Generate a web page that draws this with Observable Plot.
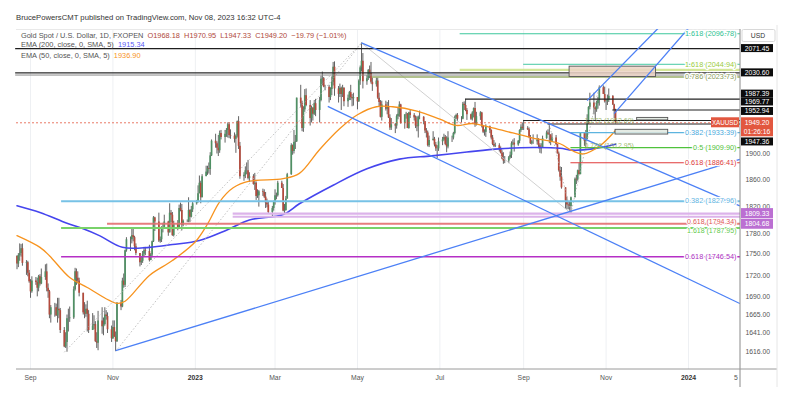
<!DOCTYPE html>
<html><head><meta charset="utf-8">
<script src="https://cdn.jsdelivr.net/npm/d3@7"></script>
<script src="https://cdn.jsdelivr.net/npm/@observablehq/plot@0.6"></script>
<style>
body{margin:0;background:#fff;font-family:"Liberation Sans",Arial,sans-serif;}
#wrap{position:relative;width:791px;height:394px;overflow:hidden;}
.t{position:absolute;white-space:nowrap;line-height:1;}
</style></head><body><div id="wrap"></div>
<script>
// ---------- DATA ----------
const firstBarDate = "2022-08-22";
const firstOpen = 1747;
const lastOpen = 1968.18;
const closes = [
1736,1748,1751,1758,1737, 1738,1723,1711,1697,1712, 1710,1702,1718,1708,1717, 1725,1702,1697,1665,1675,
1675,1664,1673,1671,1644, 1622,1628,1660,1660,1661, 1700,1725,1716,1712,1695, 1668,1666,1673,1666,1644,
1650,1652,1629,1627,1657, 1649,1652,1665,1663,1645, 1633,1648,1635,1629,1681, 1676,1712,1706,1755,1771,
1771,1777,1774,1761,1751, 1738,1740,1750,1755,1754, 1741,1749,1768,1803,1797, 1769,1771,1787,1789,1797,
1781,1810,1807,1777,1793, 1788,1817,1814,1792,1798, 1798,1814,1804,1815,1824, 1826,1839,1855,1833,1865,
1872,1877,1876,1897,1920, 1916,1909,1905,1932,1926, 1931,1937,1946,1929,1928, 1923,1928,1951,1912,1865,
1867,1874,1874,1862,1865, 1853,1855,1835,1836,1842, 1841,1834,1825,1822,1811, 1817,1826,1836,1836,1855,
1847,1813,1814,1831,1868, 1913,1904,1918,1919,1989, 1980,1940,1970,1993,1977, 1956,1973,1963,1980,1969,
1985,2020,2021,2007,2007, 1990,2003,2015,2040,2004, 1995,2005,1995,2005,1983, 1989,1998,1990,1988,1990,
1983,2017,2039,2050,2016, 2021,2035,2030,2015,2011, 2017,1989,1982,1958,1978, 1971,1975,1957,1941,1946,
1944,1959,1963,1978,1948, 1962,1963,1940,1965,1961, 1957,1944,1943,1958,1958, 1951,1936,1933,1913,1921,
1923,1914,1908,1908,1919, 1922,1926,1915,1911,1925, 1925,1932,1957,1961,1955, 1955,1979,1977,1969,1962,
1955,1965,1972,1946,1959, 1965,1944,1934,1934,1943, 1937,1925,1915,1912,1913, 1907,1901,1892,1889,1889,
1894,1898,1916,1917,1914, 1920,1937,1942,1940,1940, 1938,1926,1916,1919,1919, 1922,1913,1908,1910,1924,
1933,1931,1930,1920,1925, 1915,1900,1874,1864,1848, 1828,1822,1821,1820,1833, 1861,1860,1874,1868,1932,
1920,1923,1947,1974,1981, 1973,1970,1980,1985,2006, 1995,1983,1983,1986,1992, 1978,1969,1949.20];
const highs = [
1748,1751,1765,1764,1765, 1741,1740,1727,1714,1718, 1717,1716,1720,1721,1729, 1735,1736,1708,1699,1678,
1681,1680,1688,1688,1674, 1648,1641,1665,1673,1676, 1704,1730,1729,1725,1716, 1695,1682,1679,1684,1671,
1667,1664,1656,1641,1670, 1675,1661,1675,1671,1668, 1650,1657,1657,1642,1682, 1685,1716,1722,1756,1774,
1775,1787,1787,1776,1765, 1751,1746,1754,1760,1760, 1763,1751,1769,1805,1804, 1810,1775,1790,1795,1807,
1798,1824,1814,1811,1798, 1799,1822,1825,1823,1800, 1800,1833,1815,1820,1826, 1829,1851,1866,1858,1868,
1881,1881,1886,1902,1922, 1931,1919,1929,1936,1937, 1937,1940,1949,1949,1938, 1933,1930,1952,1959,1918,
1871,1880,1886,1890,1871, 1868,1870,1857,1845,1844, 1846,1845,1841,1831,1827, 1820,1828,1845,1840,1858,
1858,1853,1823,1835,1870, 1916,1914,1937,1929,1989, 2010,1984,1975,2003,2004, 1985,1976,1972,1985,1987,
1990,2025,2032,2023,2010, 2010,2006,2024,2048,2049, 2008,2012,2007,2010,2006, 1994,2000,2010,1995,1997,
1990,2019,2042,2081,2063, 2026,2036,2042,2048,2022, 2022,2022,1997,1985,1984, 1984,1982,1985,1962,1956,
1948,1962,1974,1983,1979, 1962,1966,1964,1966,1970, 1964,1960,1959,1960,1968, 1959,1951,1940,1936,1928,
1935,1926,1918,1913,1925, 1926,1931,1929,1927,1935, 1928,1934,1960,1963,1964, 1959,1982,1983,1987,1972,
1963,1967,1973,1982,1966, 1967,1966,1945,1938,1946, 1944,1938,1929,1921,1917, 1916,1911,1905,1902,1896,
1896,1903,1919,1922,1924, 1921,1938,1946,1949,1953, 1943,1941,1929,1921,1930, 1930,1924,1916,1916,1928,
1936,1938,1947,1930,1932, 1929,1915,1903,1880,1879, 1848,1834,1827,1826,1834, 1863,1867,1875,1885,1933,
1932,1937,1962,1975,1997, 1997,1975,1984,1990,2009, 2009,2007,1987,1994,2004, 1993,1979,1970.95];
const lows = [
1728,1731,1740,1746,1733, 1720,1718,1709,1688,1695, 1706,1690,1697,1705,1707, 1713,1697,1688,1660,1654,
1662,1663,1654,1660,1640, 1621,1620,1615,1642,1655, 1659,1698,1706,1708,1690, 1665,1660,1662,1642,1640,
1645,1645,1628,1620,1617, 1639,1637,1650,1658,1640, 1628,1632,1636,1616,1628, 1671,1675,1702,1703,1753,
1754,1765,1768,1755,1748, 1732,1734,1737,1746,1748, 1739,1743,1745,1767,1783, 1767,1766,1767,1781,1786,
1776,1781,1796,1776,1775, 1784,1787,1812,1784,1790, 1796,1796,1796,1803,1811, 1822,1825,1839,1824,1834,
1865,1867,1869,1867,1896, 1909,1900,1896,1901,1922, 1917,1926,1925,1924,1923, 1917,1901,1925,1907,1861,
1858,1862,1868,1860,1856, 1852,1844,1829,1832,1819, 1835,1832,1817,1818,1809, 1804,1813,1822,1830,1834,
1847,1812,1809,1813,1831, 1867,1898,1900,1907,1918, 1973,1935,1934,1966,1975, 1944,1949,1952,1961,1959,
1949,1983,2009,2006,2001, 1981,1985,1993,2009,1992, 1981,1990,1969,1990,1975, 1974,1985,1985,1975,1976,
1970,1982,2010,2032,2004, 2010,2018,2021,2012,2000, 2007,1987,1975,1957,1952, 1968,1962,1956,1937,1937,
1932,1939,1954,1958,1947, 1939,1955,1940,1939,1956, 1952,1940,1935,1925,1954, 1946,1932,1925,1911,1910,
1920,1911,1904,1893,1904, 1913,1920,1913,1902,1908, 1918,1922,1930,1954,1951, 1949,1954,1969,1967,1953,
1953,1952,1957,1942,1944, 1953,1941,1932,1928,1926, 1932,1922,1913,1910,1910, 1903,1900,1891,1884,1885,
1885,1892,1893,1913,1903, 1912,1916,1934,1937,1937, 1937,1924,1915,1914,1915, 1914,1908,1901,1900,1909,
1923,1929,1916,1913,1919, 1913,1900,1872,1858,1846, 1816,1815,1815,1813,1810, 1833,1853,1858,1868,1868,
1912,1908,1922,1947,1970, 1962,1953,1966,1971,1976, 1995,1981,1969,1977,1982, 1977,1956,1947.33];

// EMA readings
const ema200Dates = ["2022-08-22","2022-09-08","2022-09-28","2022-10-10","2022-10-22","2022-11-08","2022-11-28","2022-12-15","2023-01-04","2023-01-24","2023-02-10","2023-03-07","2023-03-19","2023-04-13","2023-05-08","2023-06-01","2023-06-25","2023-07-21","2023-08-14","2023-09-08","2023-09-28","2023-10-07","2023-10-22","2023-11-08"];
const ema200Values = [1821,1811,1795,1787,1777,1760,1760,1764,1770,1785,1800,1808,1824,1852,1877,1892,1897,1903,1908,1910,1909,1906,1908,1915.34];
const ema50Dates = ["2022-08-22","2022-09-08","2022-09-15","2022-09-30","2022-10-13","2022-11-04","2022-11-10","2022-11-28","2022-12-15","2023-01-01","2023-01-10","2023-01-19","2023-01-29","2023-02-10","2023-03-07","2023-03-19","2023-04-03","2023-04-18","2023-05-01","2023-05-15","2023-05-27","2023-06-14","2023-07-01","2023-07-13","2023-07-25","2023-08-09","2023-08-24","2023-09-08","2023-09-28","2023-10-07","2023-10-15","2023-10-27","2023-11-08"];
const ema50Values = [1777,1760,1748,1717,1703,1681,1684,1720,1741,1768,1794,1827,1848,1858,1862,1870,1907,1940,1962,1975,1975,1968,1955,1945,1948,1941,1933,1925,1916,1905,1900,1912,1936.90];

// Horizontal levels
const levelValues = [2071.45,2030.60,2027.0,2096.78,2044.94,2035.7,2023.73,1987.39,1969.77,1952.94,1947.36,1933.39,1909.90,1886.41,1827.96,1809.33,1804.68,1794.34,1787.95,1746.54];
const levelStarts = ["2022-08-21","2022-08-21","2022-08-21","2023-07-16","2023-09-01","2023-07-16","2023-05-12","2023-07-20","2023-11-06","2023-09-01","2023-09-19","2023-10-06","2023-10-06","2023-10-06","2022-09-24","2023-01-29","2023-01-29","2022-10-28","2022-09-24","2022-09-24"];
const levelStyles = [
 ["#1e1e1e",1.2,1],["#2a2a2a",1.2,1],["#8a8a8a",1,1],["#3cc79c",1,1],["#46c9a2",1,1],["#cfe38c",2.2,0.9],["#98ac68",1.5,1],
 ["#222",1.1,1],["#222",1.1,1],["#222",1.1,1],["#222",1.1,1],["#5db4df",1.3,1],["#4fc23c",1.4,1],["#e03b3b",1.2,1],
 ["#77c2e6",2,1],["#dcb3ea",2.4,1],["#dcb3ea",2,1],["#e36f6f",2,0.9],["#79d26a",2,1],["#b52fc6",1.5,1]];

// Fib labels (ratio, price)
const fibRatios = ["1.618","1.618","0.786","0.382","0.5","0.618","0.382","0.618","1.618","0.618"];
const fibPrices = [2096.78,2044.94,2023.73,1933.39,1909.90,1886.41,1827.96,1794.34,1787.95,1746.54];
const fibColors = ["#2fbf92","#9ccc3c","#8a9c5c","#4aa9dc","#52bf38","#dd3a3a","#62b4df","#e05555","#5fca4c","#ad2fc1"];
const fibDy = [0,0,0,0,0,0,0,-2.5,2.5,0];

// Inner labels
const innerLabels = ["1.272 (1952.69)","0.786 (1912.95)"];
const innerLabelPrices = [1952.69,1912.95];
const innerLabelDates = ["2023-10-16","2023-10-16"];

// Zones
const zoneX1 = ["2023-10-05","2023-11-08","2023-11-24"];
const zoneX2 = ["2023-12-08","2023-12-17","2023-12-17"];
const zoneY1 = [2023.7,1930.5,1953];
const zoneY2 = [2041,1938,1957];

// Trend lines [date1, price1, date2, price2]
const trendX1 = ["2022-11-03","2023-05-04","2023-04-09","2023-10-18","2023-11-07"];
const trendY1 = [1617,2081,1975.5,1985,1964];
const trendX2 = ["2024-02-08","2024-02-08","2024-02-08","2023-12-12","2024-01-06"];
const trendY2 = [1891.5,1821,1680.8,2112,2119.7];

// Dotted construction lines
const dotX1 = ["2022-09-26","2022-11-03","2023-09-20","2023-10-06"];
const dotY1 = [1615,1616,1947,1810];
const dotX2 = ["2023-05-04","2023-05-04","2023-10-06","2023-10-27"];
const dotY2 = [2081,2081,1810,2009];
const fadeX1 = ["2023-05-04"], fadeY1 = [2081], fadeX2 = ["2023-10-06"], fadeY2 = [1810];

// Axes
const xTickDates = ["2022-09-01","2022-11-01","2023-01-01","2023-03-01","2023-05-01","2023-07-01","2023-09-01","2023-11-01","2024-01-01","2024-02-05"];
const xTickLabels = ["Sep","Nov","2023","Mar","May","Jul","Sep","Nov","2024","5"];
const yTicks = [1616,1641,1665,1690,1720,1750,1780,1820,1860,1900];

// Price-scale boxes
const boxTexts = ["2071.45","2030.60","1987.39","1969.77","1952.94","1947.36","1809.33","1804.68"];
const boxValues = [2071.45,2030.60,1987.39,1969.77,1952.94,1947.36,1809.33,1804.68];
const lastClose = 1949.20;
const countdown = "01:26:16";

// ---------- BUILD ----------
const D = s => new Date(s + "T00:00:00Z");
const bars = [];
{
  let d = D(firstBarDate);
  while (bars.length < closes.length) {
    const wd = d.getUTCDay();
    if (wd !== 0 && wd !== 6) bars.push(new Date(d));
    d = new Date(d.getTime() + 864e5);
  }
}
const candles = closes.map((c, i) => {
  const o = i === 0 ? firstOpen : (i === closes.length - 1 ? lastOpen : closes[i - 1]);
  return {date: bars[i], open: o, close: c, high: Math.max(highs[i], o, c), low: Math.min(lows[i], o, c)};
});
const ema200 = ema200Dates.map((d, i) => ({date: D(d), v: ema200Values[i]}));
const ema50 = ema50Dates.map((d, i) => ({date: D(d), v: ema50Values[i]}));
const xDomain = [new Date("2022-08-21T15:00:00Z"), new Date("2024-02-08T12:00:00Z")];
const yDomain = [1592.3, 2104.1];
const levels = levelValues.map((v, i) => ({y: v, x1: D(levelStarts[i]), x2: xDomain[1], c: levelStyles[i][0], w: levelStyles[i][1], o: levelStyles[i][2]}));
const fibs = fibPrices.map((p, i) => ({y: p, text: `${fibRatios[i]} (${p.toFixed(2)})`, c: fibColors[i], dy: fibDy[i]}));
const zones = zoneX1.map((d, i) => ({x1: D(d), x2: D(zoneX2[i]), y1: zoneY1[i], y2: zoneY2[i]}));
const trends = trendX1.map((d, i) => ({x1: D(d), y1: trendY1[i], x2: D(trendX2[i]), y2: trendY2[i]}));
const dots = dotX1.map((d, i) => ({x1: D(d), y1: dotY1[i], x2: D(dotX2[i]), y2: dotY2[i]}));
const fades = fadeX1.map((d, i) => ({x1: D(d), y1: fadeY1[i], x2: D(fadeX2[i]), y2: fadeY2[i]}));
const xt = xTickDates.map((d, i) => ({date: D(d), label: xTickLabels[i]}));
const inner = innerLabels.map((t, i) => ({text: t, y: innerLabelPrices[i], x: D(innerLabelDates[i])}));

const FONT = '"Liberation Sans", Arial, sans-serif';
const boxDy = [0, 0, -5, -8, -9, 18, 0, 7.5];

function priceScaleBoxes(index, scales, values, dims) {
  const g = d3.create("svg:g").attr("font-family", FONT).attr("font-size", 6.8);
  const y = scales.y;
  const x0 = dims.width - dims.marginRight;
  boxValues.forEach((v, i) => {
    const purple = i >= 6;
    const cy = y(v) + boxDy[i];
    const h = purple ? 10 : 8;
    g.append("rect").attr("x", x0 + 1).attr("y", cy - h / 2).attr("width", 32).attr("height", h)
      .attr("fill", purple ? "#bb6fd2" : "#0c0c0c");
    g.append("text").attr("x", x0 + 17).attr("y", cy).attr("dy", "0.36em").attr("text-anchor", "middle")
      .attr("fill", "#fff").text(boxTexts[i]);
  });
  const cy = y(lastClose);
  g.append("rect").attr("x", x0 + 1).attr("y", cy - 5).attr("width", 32).attr("height", 19).attr("fill", "#e2573f");
  g.append("text").attr("x", x0 + 17).attr("y", cy).attr("dy", "0.36em").attr("text-anchor", "middle").attr("fill", "#fff").text(lastClose.toFixed(2));
  g.append("text").attr("x", x0 + 17).attr("y", cy + 9).attr("dy", "0.36em").attr("text-anchor", "middle").attr("fill", "#fff").text(countdown);
  g.append("rect").attr("x", x0 - 29).attr("y", cy - 5).attr("width", 28).attr("height", 10).attr("fill", "#e2573f");
  g.append("text").attr("x", x0 - 15).attr("y", cy).attr("dy", "0.36em").attr("text-anchor", "middle").attr("fill", "#fff").attr("font-size", 6.3).text("XAUUSD");
  g.append("rect").attr("x", x0 + 2).attr("y", 29.5).attr("width", 33).attr("height", 12).attr("fill", "#fff").attr("stroke", "#d8d8d8").attr("rx", 1.5);
  g.append("text").attr("x", x0 + 18).attr("y", 35.5).attr("dy", "0.36em").attr("text-anchor", "middle").attr("fill", "#333").text("USD");
  g.append("line").attr("x1", x0).attr("x2", x0).attr("y1", dims.marginTop).attr("y2", dims.height - 7).attr("stroke", "#8a8a8a");
  g.append("line").attr("x1", dims.marginLeft).attr("x2", x0 + 37).attr("y1", dims.height - dims.marginBottom).attr("y2", dims.height - dims.marginBottom).attr("stroke", "#9a9a9a");
  g.append("line").attr("x1", x0 + 37).attr("x2", x0 + 37).attr("y1", dims.marginTop - 4).attr("y2", dims.height - 7).attr("stroke", "#e6e6e6");
  return g.node();
}

const chart = Plot.plot({
  width: 791, height: 394,
  marginLeft: 16, marginRight: 51, marginTop: 29, marginBottom: 25,
  style: {fontFamily: FONT, background: "transparent"},
  x: {type: "utc", domain: xDomain, axis: null},
  y: {type: "log", domain: yDomain, axis: null},
  marks: [
    Plot.ruleX(xt.slice(0, 9), {x: "date", stroke: "#eef0f3", strokeWidth: 1}),
    Plot.ruleY([0], {y: () => yDomain[1], x1: xDomain[0], x2: xDomain[1], stroke: "#e9e9e9"}),
    Plot.ruleX(candles, {x: "date", y1: "low", y2: "high", stroke: "#3b3b3b", strokeWidth: 0.8}),
    Plot.ruleX(candles, {x: "date", y1: "open", y2: "close", stroke: d => d.close >= d.open ? "#4f9064" : "#b54a3c", strokeWidth: 1.7}),
    Plot.line(ema200, {x: "date", y: "v", stroke: "#4545ee", strokeWidth: 1.6, curve: "catmull-rom"}),
    Plot.line(ema50, {x: "date", y: "v", stroke: "#f7931e", strokeWidth: 1.3, curve: "catmull-rom"}),
    Plot.link(fades, {x1: "x1", y1: "y1", x2: "x2", y2: "y2", stroke: "#c4c4c4", strokeWidth: 0.8}),
    Plot.link(dots, {x1: "x1", y1: "y1", x2: "x2", y2: "y2", stroke: "#b0b0b0", strokeWidth: 0.8, strokeDasharray: "1.5,2"}),
    Plot.ruleY(levels, {y: "y", x1: "x1", x2: "x2", stroke: "c", strokeWidth: "w", strokeOpacity: "o"}),
    Plot.rect(zones, {x1: "x1", x2: "x2", y1: "y1", y2: "y2", fill: (d, i) => i === 0 ? "#ecd4c6" : "#dfe7df", fillOpacity: 0.85, stroke: "#555", strokeWidth: 0.9}),
    Plot.ruleY([lastClose], {x1: xDomain[0], x2: xDomain[1], stroke: "#e2573f", strokeWidth: 0.8, strokeDasharray: "2,2"}),
    Plot.link(trends, {x1: "x1", y1: "y1", x2: "x2", y2: "y2", stroke: "#4c80f6", strokeWidth: 1.3, clip: true}),
    Plot.text(fibs.filter(d => d.dy === 0), {y: "y", text: "text", frameAnchor: "right", dx: -4, textAnchor: "end", fill: "c", fontSize: 7.3, stroke: "white", strokeWidth: 2.5}),
    Plot.text(fibs.filter(d => d.dy < 0), {y: "y", text: "text", frameAnchor: "right", dx: -4, dy: -2.5, textAnchor: "end", fill: "c", fontSize: 7, stroke: "white", strokeWidth: 2}),
    Plot.text(fibs.filter(d => d.dy > 0), {y: "y", text: "text", frameAnchor: "right", dx: -4, dy: 2.5, textAnchor: "end", fill: "c", fontSize: 7, stroke: "white", strokeWidth: 2}),
    Plot.text(inner, {x: "x", y: "y", text: "text", textAnchor: "start", fill: "#8fae58", fontSize: 7, fillOpacity: 0.85}),
    Plot.text(xt.filter(d => !/^20/.test(d.label)), {x: "date", text: "label", frameAnchor: "bottom", dy: 10, fill: "#555", fontSize: 6.8}),
    Plot.text(xt.filter(d => /^20/.test(d.label)), {x: "date", text: "label", frameAnchor: "bottom", dy: 10, fill: "#333", fontSize: 6.8, fontWeight: "bold"}),
    Plot.axisY(yTicks, {anchor: "right", tickSize: 0, tickPadding: 5, tickFormat: d => d.toFixed(2), fontSize: 6.8, fill: "#555", label: null}),
    priceScaleBoxes
  ]
});

const wrap = document.getElementById("wrap");
wrap.appendChild(chart);
const add = (html, left, top, size, color) => {
  const el = document.createElement("div");
  el.className = "t";
  el.style.left = left + "px"; el.style.top = top + "px"; el.style.fontSize = size + "px"; el.style.color = color;
  el.innerHTML = html; wrap.appendChild(el); return el;
};
add("BrucePowersCMT published on TradingView.com, Nov 08, 2023 16:32 UTC-4", 16, 14, 7.7, "#333");
add('Gold Spot / U.S. Dollar, 1D, FXOPEN&nbsp; <span style="color:#b0493b">O1968.18&nbsp; H1970.95&nbsp; L1947.33&nbsp; C1949.20&nbsp; −19.79 (−1.01%)</span>', 21, 31.5, 7.4, "#555");
add('EMA (200, close, 0, SMA, 5)&nbsp; <span style="color:#5a5af5">1915.34</span>', 21, 41, 7.4, "#555");
add('EMA (50, close, 0, SMA, 5)&nbsp; <span style="color:#f7931e">1936.90</span>', 21, 51.5, 7.4, "#555");
</script></body></html>
